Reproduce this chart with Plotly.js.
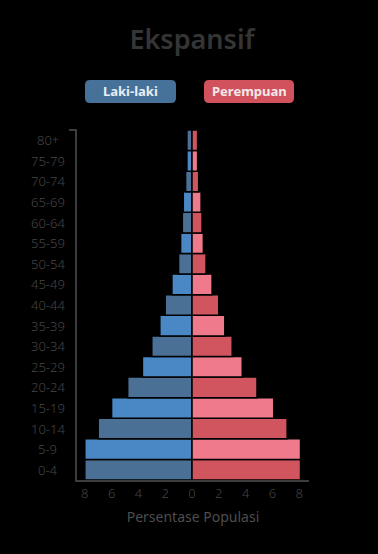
<!DOCTYPE html>
<html>
<head>
<meta charset="utf-8">
<script src="https://cdn.plot.ly/plotly-3.0.1.min.js"></script>
<style>html,body{margin:0;padding:0;background:#000;}#chart{width:378px;height:554px;}</style>
</head>
<body>
<div id="chart"></div>
<script>
const ageGroups = ["0-4","5-9","10-14","15-19","20-24","25-29","30-34","35-39","40-44","45-49","50-54","55-59","60-64","65-69","70-74","75-79","80+"];
const male   = [8.0, 8.0, 7.0, 6.0, 4.8, 3.7, 3.0, 2.4, 2.0, 1.5, 1.0, 0.85, 0.72, 0.65, 0.48, 0.38, 0.38];
const female = [8.1, 8.1, 7.1, 6.1, 4.85, 3.75, 3.0, 2.45, 2.0, 1.5, 1.05, 0.85, 0.75, 0.68, 0.5, 0.42, 0.42];
const xTickVals = [-8, -6, -4, -2, 0, 2, 4, 6, 8];
const xTickText = ["8", "6", "4", "2", "0", "2", "4", "6", "8"];
const maleLabel = "Laki-laki";
const femaleLabel = "Perempuan";

const maleDark = "#4a7095", maleLight = "#4a88c5";
const femDark = "#d0555f", femLight = "#ef7a8c";

const maleColors = ageGroups.map((_, i) => i % 2 === 0 ? maleDark : maleLight);
const femColors = ageGroups.map((_, i) => i % 2 === 0 ? femDark : femLight);

const traces = [
  {type: "bar", orientation: "h", y: ageGroups, x: male.map(v => -v), name: maleLabel,
   marker: {color: maleColors, line: {color: "#000", width: 1.5}}, hoverinfo: "skip"},
  {type: "bar", orientation: "h", y: ageGroups, x: female, name: femaleLabel,
   marker: {color: femColors, line: {color: "#000", width: 1.5}}, hoverinfo: "skip"}
];

function roundRect(x0, y0, x1, y1, r) {
  return `M${x0+r},${y0} L${x1-r},${y0} Q${x1},${y0} ${x1},${y0+r} L${x1},${y1-r} Q${x1},${y1} ${x1-r},${y1} L${x0+r},${y1} Q${x0},${y1} ${x0},${y1-r} L${x0},${y0+r} Q${x0},${y0} ${x0+r},${y0} Z`;
}
const W = 378, H = 554;
const plotL = 77, plotR = 309, plotT = 130, plotB = 480;
const plotW = plotR - plotL, plotH = plotB - plotT;
function rx(x) { return x - plotL; }
function ry(y) { return plotB - y; }
function paperX(x) { return (x - plotL) / plotW; }
function paperY(y) { return (plotB - y) / plotH; }

const tickFont = {family: "Noto Sans", size: 13, color: "#454545", weight: 300};

const annotations = [
  {xref: "paper", yref: "paper", x: paperX(130.5), y: paperY(91.5), text: "<b>" + maleLabel + "</b>", showarrow: false,
   font: {family: "Noto Sans", size: 13, color: "#e8eef5"}, xanchor: "center", yanchor: "middle"},
  {xref: "paper", yref: "paper", x: paperX(249), y: paperY(91.5), text: "<b>" + femaleLabel + "</b>", showarrow: false,
   font: {family: "Noto Sans", size: 13, color: "#f5e8ea"}, xanchor: "center", yanchor: "middle"}
];
ageGroups.forEach(g => annotations.push({
  xref: "paper", yref: "y", x: paperX(47.5), y: g, text: g, showarrow: false,
  font: tickFont, xanchor: "center", yanchor: "middle"
}));

const layout = {
  width: W, height: H,
  paper_bgcolor: "#000", plot_bgcolor: "#000",
  margin: {l: plotL, r: W - plotR, t: plotT, b: H - plotB},
  barmode: "relative", bargap: 0,
  showlegend: false,
  title: {text: "Ekspansif", font: {family: "Noto Sans", size: 27, color: "#353535", weight: 600},
          x: paperX(192), xanchor: "center", y: 1 - 40/554, yanchor: "middle", yref: "container", xref: "paper"},
  xaxis: {range: [-(192 - plotL) / 13.4, (plotR - 192) / 13.4], tickvals: xTickVals, ticktext: xTickText,
          showgrid: false, zeroline: false,
          showline: true, linecolor: "#3c3c3c", linewidth: 2, ticks: "", ticklen: 0,
          tickfont: tickFont,
          title: {text: "Persentase Populasi", font: {family: "Noto Sans", size: 14, color: "#4d4d4d"}, standoff: 12}},
  yaxis: {type: "category", range: [-0.5, 16.5], showgrid: false, zeroline: false,
          showline: true, linecolor: "#3c3c3c", linewidth: 2, ticks: "", showticklabels: false},
  shapes: [
    {type: "line", xref: "paper", yref: "paper", x0: paperX(69), x1: paperX(77), y0: 1, y1: 1, line: {color: "#3c3c3c", width: 2}},
    {type: "path", xref: "paper", yref: "paper", path: roundRect(rx(85), ry(103), rx(176), ry(80), 5),
     xsizemode: "pixel", ysizemode: "pixel", xanchor: 0, yanchor: 0, fillcolor: "#46729a", line: {width: 0}},
    {type: "path", xref: "paper", yref: "paper", path: roundRect(rx(204), ry(103), rx(294), ry(80), 5),
     xsizemode: "pixel", ysizemode: "pixel", xanchor: 0, yanchor: 0, fillcolor: "#d1525c", line: {width: 0}}
  ],
  annotations: annotations
};

Plotly.newPlot("chart", traces, layout, {displayModeBar: false, staticPlot: true});
</script>
</body>
</html>
